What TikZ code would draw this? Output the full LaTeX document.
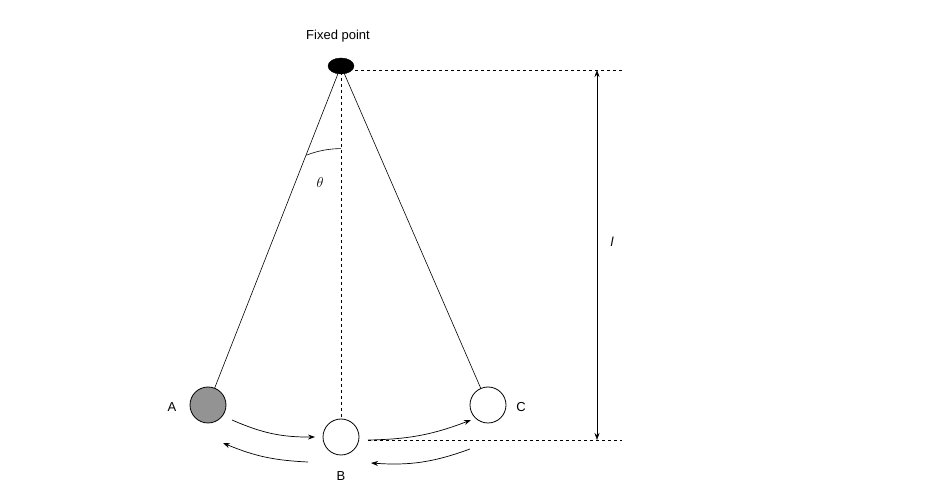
\documentclass[tikz,border=0pt]{standalone}
\usepackage{fontspec}
\setmainfont{Liberation Sans}
\usetikzlibrary{arrows.meta,shapes.geometric}
\begin{document}
\begin{tikzpicture}[x=1pt,y=-1pt,
  lbl/.style={font=\fontsize{13}{15}\selectfont},
  ball/.style={circle,draw,line width=0.8pt,minimum size=36pt,inner sep=0pt},
  dsh/.style={dashed,line width=0.6pt},
  arr/.style={-{Stealth[length=7pt,width=5pt]},line width=0.7pt}]
\useasboundingbox (0,0) rectangle (930,502);
\node[ellipse,fill=black,minimum width=26pt,minimum height=16pt,inner sep=0pt,draw] (P) at (341,66) {};
\node[ball,fill=gray!85] (A) at (208,405) {};
\node[ball] (B) at (341,437) {};
\node[ball] (C) at (488,405) {};
\draw[line width=0.6pt] (P.center) -- (A);
\draw[line width=0.6pt] (P.center) -- (C);
\draw[dsh] (P.center) -- (B.north);
\coordinate (t1) at (355,70); \coordinate (t2) at (622,70);
\coordinate (b1) at (368,440); \coordinate (b2) at (622,440);
\draw[dsh] (t1) -- (t2);
\draw[dsh] (b1) -- (b2);
\coordinate (d1) at (597,70); \coordinate (d2) at (597,440);
\draw[{Stealth[length=7pt,width=5pt]}-{Stealth[length=7pt,width=5pt]},line width=0.6pt] (d1) -- (d2);
\draw[line width=0.6pt] (306.3,155.2) arc[start angle=248.6,end angle=270,radius=95.5];
\node[lbl] at (338,36) {Fixed point};
\node[lbl,font=\fontsize{13}{15}\selectfont\itshape] at (612,242) {l};
\node[font=\fontsize{15}{17}\selectfont] at (320,183) {$\theta$};
\node[lbl] at (172,407) {A};
\node[lbl] at (521,407) {C};
\node[lbl] at (341,476) {B};
\coordinate (a1) at (232,420); \coordinate (a2) at (315,437);
\coordinate (c1) at (368,440); \coordinate (c2) at (471,420);
\coordinate (e1) at (470,449); \coordinate (e2) at (371,463);
\coordinate (f1) at (308,462); \coordinate (f2) at (223,443);
\draw[arr] (a1) to[bend right=12] (a2);
\draw[arr] (c1) to[bend right=10] (c2);
\draw[arr] (e1) to[bend left=12] (e2);
\draw[arr] (f1) to[bend left=10] (f2);
\end{tikzpicture}
\end{document}
